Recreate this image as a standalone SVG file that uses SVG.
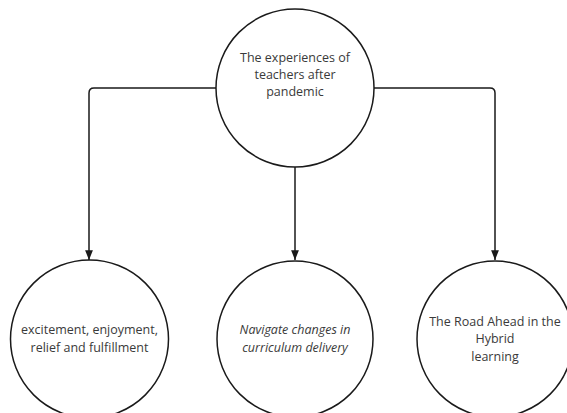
<svg xmlns="http://www.w3.org/2000/svg" width="567" height="413" viewBox="0 0 567 413">
<defs>
<style>
.node circle{fill:#fff;stroke:#1a1a1a;stroke-width:1.5}
.node text{font-family:"Open Sans","Noto Sans",sans-serif;font-size:12.5px;fill:#3a3a3a;text-anchor:middle}
.edge{fill:none;stroke:#1a1a1a;stroke-width:1.5}
</style>
<marker id="arr" viewBox="0 0 10 8" refX="10" refY="4" markerWidth="6.5" markerHeight="5.2" orient="auto" markerUnits="strokeWidth">
<path d="M0,0 L10,4 L0,8 Z" fill="#1a1a1a"/>
</marker>
</defs>
<rect width="567" height="413" fill="#fff"/>
<g id="connectors">
<path class="edge" d="M216,88 H94 Q89,88 89,93 V260" marker-end="url(#arr)"/>
<path class="edge" d="M295,167 V260" marker-end="url(#arr)"/>
<path class="edge" d="M374,88 H490 Q495,88 495,93 V260" marker-end="url(#arr)"/>
</g>
<g id="top" class="node">
<circle cx="295" cy="88" r="79"/>
<text x="295" y="62">The experiences of</text>
<text x="295" y="79">teachers after</text>
<text x="295" y="96">pandemic</text>
</g>
<g id="left" class="node">
<circle cx="89.5" cy="339" r="79"/>
<text x="89.5" y="334">excitement, enjoyment,</text>
<text x="89.5" y="352">relief and fulfillment</text>
</g>
<g id="middle" class="node">
<circle cx="295" cy="339" r="78"/>
<text x="295" y="334" font-style="italic">Navigate changes in</text>
<text x="295" y="352" font-style="italic">curriculum delivery</text>
</g>
<g id="right" class="node">
<circle cx="495" cy="339" r="78"/>
<text x="495" y="326">The Road Ahead in the</text>
<text x="495" y="343">Hybrid</text>
<text x="495" y="361">learning</text>
</g>
</svg>
